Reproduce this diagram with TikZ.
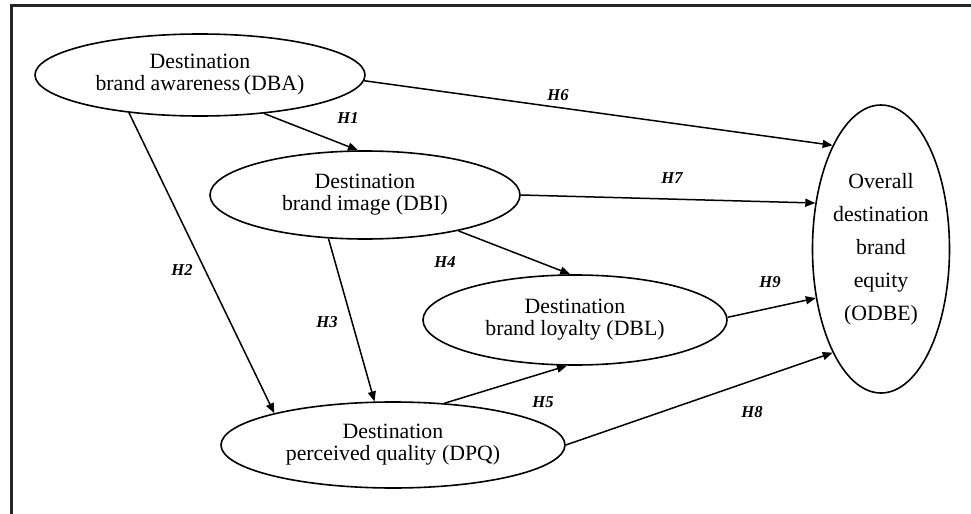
\documentclass[tikz,border=0pt]{standalone}
\usepackage{fontspec}
\setmainfont{Liberation Serif}
\usetikzlibrary{shapes.geometric,arrows.meta}

\begin{document}
\begin{tikzpicture}[x=0.5pt,y=-0.5pt,
        construct/.style={draw,ellipse,inner sep=0pt,line width=0.8pt,align=center,
            font=\fontsize{10.9}{11}\selectfont},
        hyp/.style={font=\fontsize{8.3}{9}\selectfont\bfseries\itshape},
        link/.style={-{Triangle[length=5pt,width=4pt]},line width=0.75pt}]
        \useasboundingbox (0,0) rectangle (971,514);

        % frame
        \draw[line width=1.6pt,black!85] (11.5,514) -- (11.5,5.5) -- (971,5.5);

        % constructs
        \node[construct,minimum width=165pt,minimum height=41pt] (dba) at (200,75)
            {Destination\\brand awareness\,(DBA)};
        \node[construct,minimum width=155pt,minimum height=44pt] (dbi) at (365,195)
            {Destination\\brand image (DBI)};
        \node[construct,minimum width=152pt,minimum height=45pt] (dbl) at (575,320)
            {Destination\\brand loyalty (DBL)};
        \node[construct,minimum width=172pt,minimum height=43pt] (dpq) at (393,445)
            {Destination\\perceived quality (DPQ)};
        \node[construct,minimum width=68.5pt,minimum height=144pt,
            font=\fontsize{10.9}{16.5}\selectfont] (odbe) at (881,249)
            {Overall\\destination\\brand\\equity\\(ODBE)};

        % hypotheses
        \draw[link] (dba.-31) -- (dbi.99);
        \draw[link] (dba.-152) -- (dpq.165);
        \draw[link] (dbi.-130) -- (dpq.113);
        \draw[link] (dbi.-21) -- (dbl.96);
        \draw[link] (dpq.39) -- (dbl.-100);
        \draw[link] (dba.-2) -- (odbe.115);
        \draw[link] (dbi.0) -- (odbe.145);
        \draw[link] (dpq.0) -- (odbe.-115);
        \draw[link] (dbl.1) -- (odbe.-143);

        % labels
        \node[hyp] (h1) at (348,118) {H1};
        \node[hyp] (h2) at (182,270) {H2};
        \node[hyp] (h3) at (327,322) {H3};
        \node[hyp] (h4) at (445,262) {H4};
        \node[hyp] (h5) at (543,402) {H5};
        \node[hyp] (h6) at (558,95) {H6};
        \node[hyp] (h7) at (672,178) {H7};
        \node[hyp] (h8) at (752,412) {H8};
        \node[hyp] (h9) at (770,282) {H9};
    \end{tikzpicture}
\end{document}
